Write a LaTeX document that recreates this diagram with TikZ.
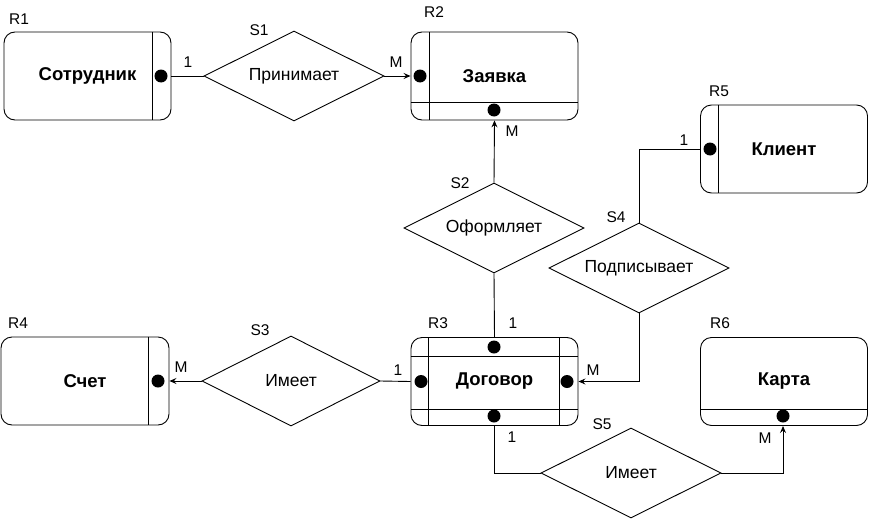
\documentclass[tikz,border=0pt]{standalone}
\usepackage{fontspec}
\setmainfont{Liberation Sans}
\usetikzlibrary{shapes.geometric,arrows.meta}
\begin{document}
\begin{tikzpicture}[x=1pt,y=-1pt,
  ent/.style={draw,rounded corners=11pt,minimum width=167pt,minimum height=88pt,inner sep=0pt,line width=0.9pt,font=\fontsize{18.5}{20}\selectfont\bfseries},
  rel/.style={draw,diamond,minimum width=180pt,minimum height=90pt,inner sep=0pt,line width=0.9pt},
  reltext/.style={font=\fontsize{17.5}{20}\selectfont},
  lab/.style={font=\fontsize{15.5}{18}\selectfont,inner sep=0pt},
  conn/.style={line width=0.9pt},
  arr/.style={line width=0.9pt,-{Stealth[length=7pt,width=6pt,inset=2.5pt]}},
  inner/.style={line width=0.9pt},
  dotc/.style={fill=black}
]
\useasboundingbox (0,0) rectangle (869,519);
% entities
\node[ent] (R1) at (87.5,76) {Сотрудник};
\node[ent] (R2) at (494.5,76) {Заявка};
\node[ent] (R3) at (494.5,381.5) {Договор};
\node[ent,minimum width=168pt] (R4) at (85,381) {Счет};
\node[ent] (R5) at (784,149) {Клиент};
\node[ent] (R6) at (784,381.5) {Карта};
% relationships
\node[rel] (S1) at (294,76) {};
\node[reltext] (S1t) at (S1.center) {Принимает};
\node[rel] (S2) at (494,228) {};
\node[reltext] (S2t) at (S2.center) {Оформляет};
\node[rel,minimum width=178pt] (S3) at (291,381) {};
\node[reltext] (S3t) at (S3.center) {Имеет};
\node[rel] (S4) at (639,268) {};
\node[reltext] (S4t) at (S4.center) {Подписывает};
\node[rel] (S5) at (631,473) {};
\node[reltext] (S5t) at (S5.center) {Имеет};
% inner lines
\draw[inner] ([xshift=-19pt]R1.north east) -- ([xshift=-19pt]R1.south east);
\draw[inner] ([xshift=19pt]R2.north west) -- ([xshift=19pt]R2.south west);
\draw[inner] ([yshift=18pt]R2.south west) -- ([yshift=18pt]R2.south east);
\draw[inner] ([xshift=18pt]R3.north west) -- ([xshift=18pt]R3.south west);
\draw[inner] ([xshift=-19pt]R3.north east) -- ([xshift=-19pt]R3.south east);
\draw[inner] ([yshift=-19pt]R3.north west) -- ([yshift=-19pt]R3.north east);
\draw[inner] ([yshift=17pt]R3.south west) -- ([yshift=17pt]R3.south east);
\draw[inner] ([xshift=-21pt]R4.north east) -- ([xshift=-21pt]R4.south east);
\draw[inner] ([xshift=18pt]R5.north west) -- ([xshift=18pt]R5.south west);
\draw[inner] ([yshift=17pt]R6.south west) -- ([yshift=17pt]R6.south east);
% dots
\fill[dotc] (161,76) circle (6.5pt);
\fill[dotc] (420,76) circle (6.5pt);
\fill[dotc] (494,110) circle (6.5pt);
\fill[dotc] (494,347) circle (6.5pt);
\fill[dotc] (421,381.5) circle (6.5pt);
\fill[dotc] (567,381.5) circle (6.5pt);
\fill[dotc] (494,416) circle (6.5pt);
\fill[dotc] (158,381) circle (6.5pt);
\fill[dotc] (710,149) circle (6.5pt);
\fill[dotc] (783,416) circle (6.5pt);
% connectors
\draw[conn] (R1.east) -- (S1.west);
\draw[arr] (S1.east) -- (R2.west);
\draw[arr] (S2.north) -- (R2.south);
\draw[conn] (S2.south) -- (R3.north);
\draw[conn] (R3.west) -- (S3.east);
\draw[arr] (S3.west) -- (R4.east);
\draw[conn] (R5.west) -| (S4.north);
\draw[arr] (S4.south) |- (R3.east);
\draw[conn] (R3.south) |- (S5.west);
\coordinate (R6d) at (783,426);
\draw[arr] (S5.east) -| (R6d);
% labels
\node[lab] (lR1) at (19,19) {R1};
\node[lab] (lS1) at (259,30) {S1};
\node[lab] (l11) at (188,62) {1};
\node[lab] (lM1) at (396,62) {M};
\node[lab] (lR2) at (434,12) {R2};
\node[lab] (lM2) at (512,131) {M};
\node[lab] (lS2) at (460,183) {S2};
\node[lab] (l12) at (513,323) {1};
\node[lab] (lR3) at (438,323) {R3};
\node[lab] (lR4) at (18,323) {R4};
\node[lab] (lS3) at (260,330) {S3};
\node[lab] (lM3) at (181,367) {M};
\node[lab] (l13) at (398,370) {1};
\node[lab] (lR5) at (719,91) {R5};
\node[lab] (lS4) at (616,217) {S4};
\node[lab] (l14) at (684,140) {1};
\node[lab] (lM4) at (593,370) {M};
\node[lab] (lR6) at (720,323) {R6};
\node[lab] (lS5) at (602,424) {S5};
\node[lab] (l15) at (512,437) {1};
\node[lab] (lM5) at (765,438) {M};
\end{tikzpicture}
\end{document}
